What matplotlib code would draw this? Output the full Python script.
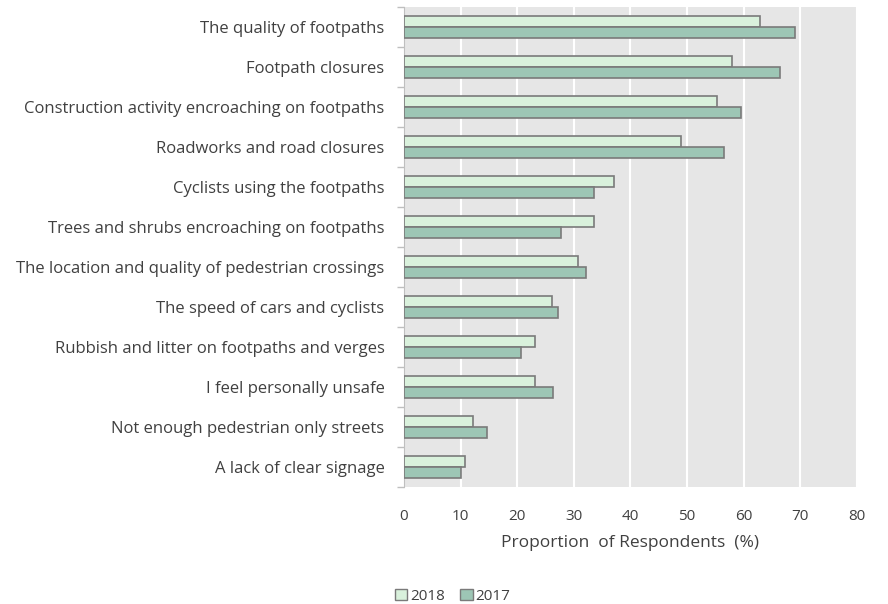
import numpy as np
import matplotlib.pyplot as plt
from matplotlib.patches import Patch

categories = [
    "The quality of footpaths",
    "Footpath closures",
    "Construction activity encroaching on footpaths",
    "Roadworks and road closures",
    "Cyclists using the footpaths",
    "Trees and shrubs encroaching on footpaths",
    "The location and quality of pedestrian crossings",
    "The speed of cars and cyclists",
    "Rubbish and litter on footpaths and verges",
    "I feel personally unsafe",
    "Not enough pedestrian only streets",
    "A lack of clear signage",
]
values_2018 = [62.9, 57.9, 55.2, 48.9, 37.1, 33.6, 30.7, 26.1, 23.1, 23.2, 12.1, 10.8]
values_2017 = [69.0, 66.5, 59.5, 56.5, 33.6, 27.7, 32.2, 27.2, 20.7, 26.3, 14.6, 10.0]
x_ticks = [0, 10, 20, 30, 40, 50, 60, 70, 80]

plt.rcParams['font.family'] = ['Open Sans', 'DejaVu Sans']
text_color = '#404040'
c2018 = '#d9f1dc'
c2017 = '#9dc6b5'
edge = '#7a7a7a'

fig = plt.figure(figsize=(8.88, 6.04), dpi=100)
ax = fig.add_axes([0.455, 0.194, 0.51, 0.794])
ax.set_facecolor('#e6e6e6')

y = np.arange(len(categories))
h = 0.27
ax.barh(y - h / 2, values_2018, height=h, color=c2018, edgecolor=edge, linewidth=1.2, zorder=3)
ax.barh(y + h / 2, values_2017, height=h, color=c2017, edgecolor=edge, linewidth=1.2, zorder=3)

ax.set_ylim(len(categories) - 0.5, -0.5)
ax.set_xlim(0, 80)
ax.set_xticks(x_ticks)
ax.xaxis.grid(True, color='white', linewidth=1.5, zorder=0)
ax.set_axisbelow(True)

# category labels without ticks, tick marks between categories
ax.set_yticks(y)
ax.set_yticklabels(categories, fontsize=12, color=text_color)
ax.tick_params(axis='y', length=0, pad=14)
ax.set_yticks(np.arange(len(categories) + 1) - 0.5, minor=True)
ax.tick_params(axis='y', which='minor', length=5, color='#bfbfbf', width=1)
ax.tick_params(axis='x', length=0, pad=16, labelsize=11, labelcolor=text_color)

for s in ['top', 'right', 'bottom']:
    ax.spines[s].set_visible(False)
ax.spines['left'].set_color('#bfbfbf')

ax.set_xlabel('Proportion  of Respondents  (%)', fontsize=12.5, color=text_color, labelpad=8)

handles = [Patch(facecolor=c2018, edgecolor=edge, label='2018'),
           Patch(facecolor=c2017, edgecolor=edge, label='2017')]
fig.legend(handles=handles, loc='center', bbox_to_anchor=(0.51, 0.013), ncol=2, frameon=False,
           fontsize=11, labelcolor=text_color, handlelength=0.8, handleheight=0.8,
           handletextpad=0.2, columnspacing=1.0)

fig.savefig('out.png', dpi=100)
